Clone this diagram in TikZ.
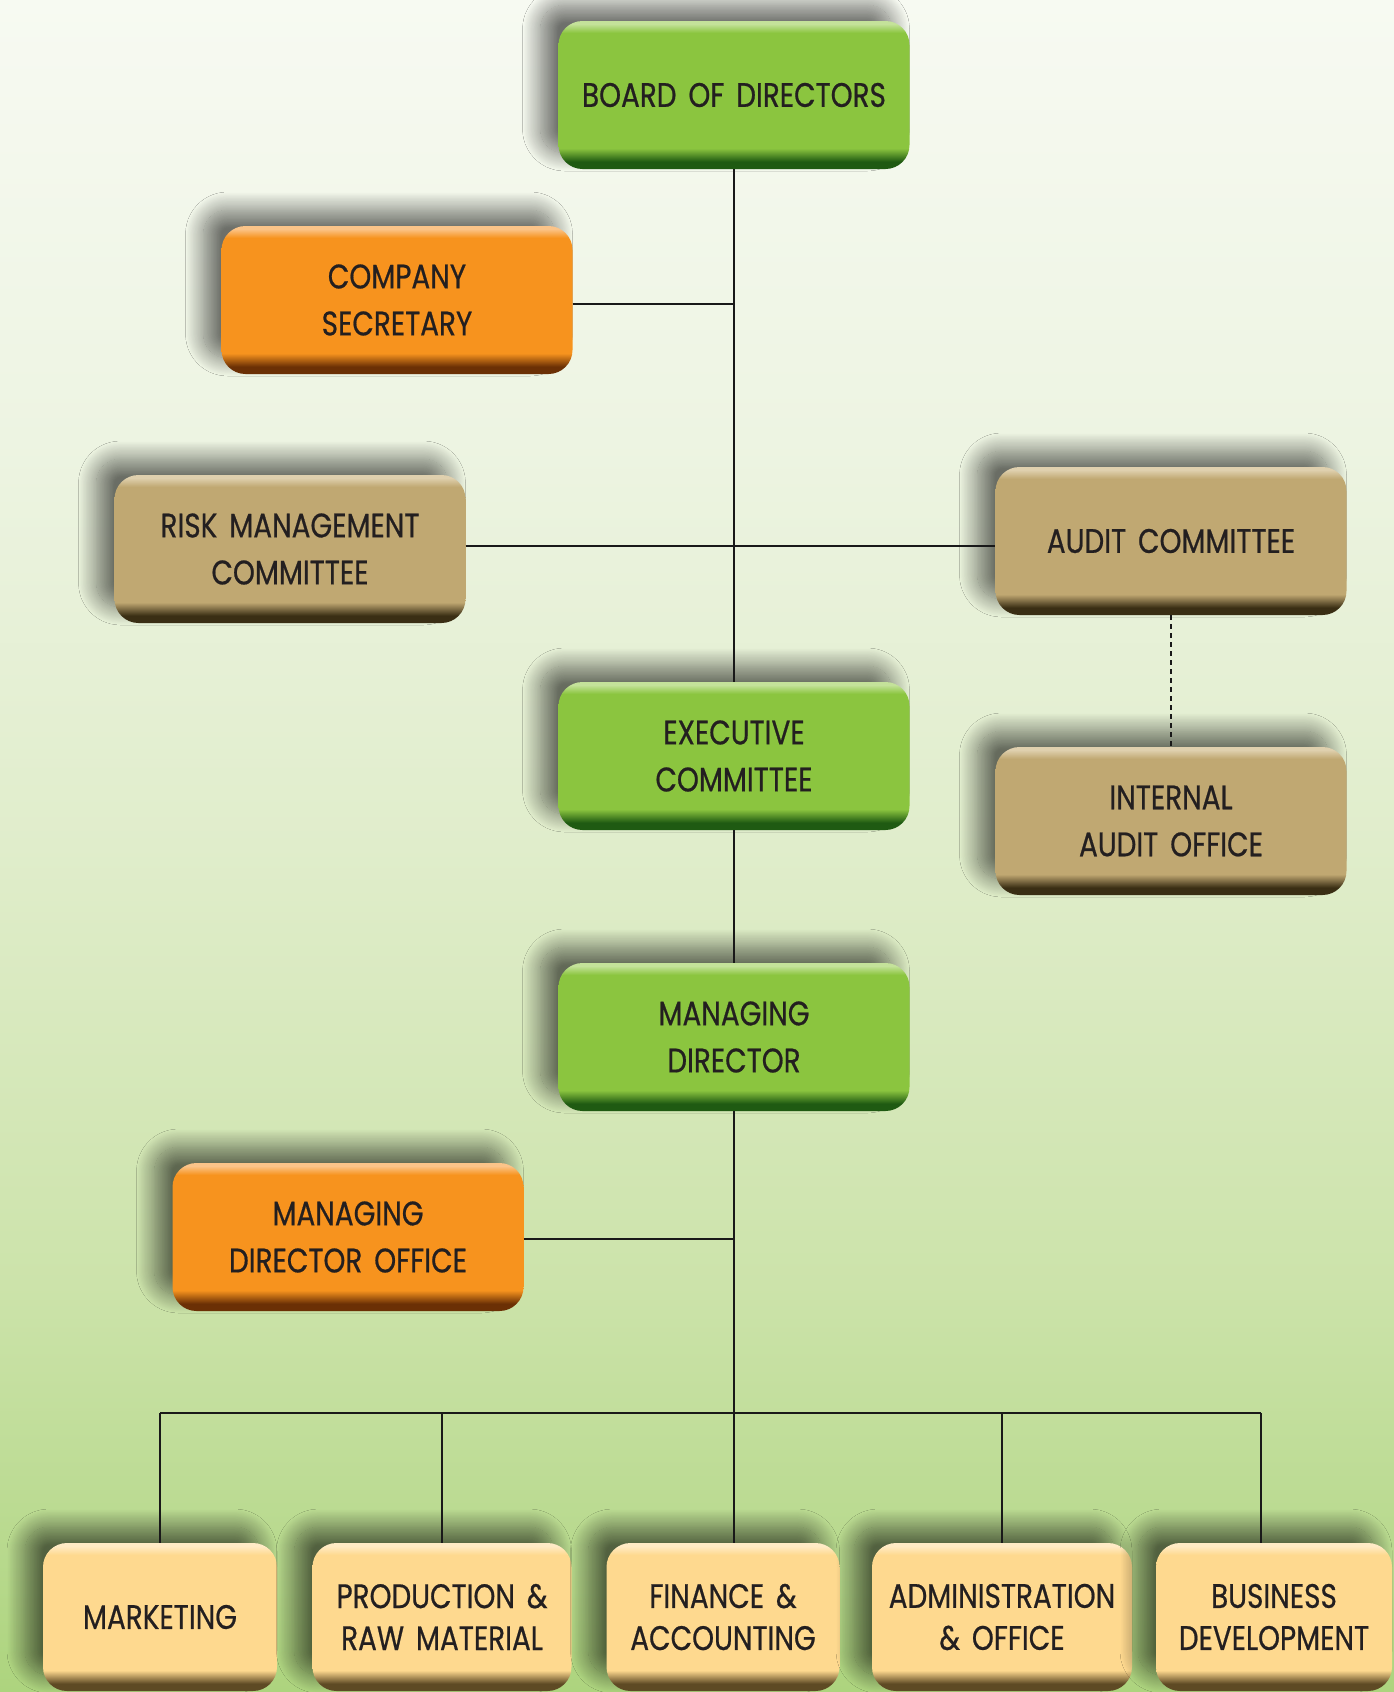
\documentclass[tikz,border=0pt]{standalone}
\usepackage{fontspec}
\setmainfont{Poppins}[FakeStretch=0.82, WordSpace=1.6, FakeBold=0.6]
\usetikzlibrary{shadows.blur}

\definecolor{bgbottom}{HTML}{ADD47E}
\definecolor{bglow}{HTML}{CCE3AA}
\definecolor{bgmid}{HTML}{E0EDCB}
\definecolor{bghigh}{HTML}{EDF4E2}
\definecolor{bgtop}{HTML}{F7FAF2}
\definecolor{grnmain}{HTML}{8BC53F}
\definecolor{grndark}{HTML}{1F5A12}
\definecolor{grnlight}{HTML}{C4E29A}
\definecolor{orgmain}{HTML}{F7931E}
\definecolor{orgdark}{HTML}{6B3005}
\definecolor{orglight}{HTML}{FBC489}
\definecolor{tanmain}{HTML}{C0A872}
\definecolor{tandark}{HTML}{3A2E14}
\definecolor{tanlight}{HTML}{DFD0AE}
\definecolor{pchmain}{HTML}{FED98F}
\definecolor{pchdark}{HTML}{5E4A24}
\definecolor{pchlight}{HTML}{FFEBC6}
\definecolor{txtdark}{HTML}{231F20}

\pgfdeclareverticalshading{bgshade}{100bp}{color(0bp)=(bgbottom); color(25bp)=(bgbottom);
  color(37bp)=(bglow); color(50bp)=(bgmid); color(62bp)=(bghigh); color(75bp)=(bgtop); color(100bp)=(bgtop)}
\pgfdeclareverticalshading{grnbevel}{100bp}{color(0bp)=(grndark); color(25bp)=(grndark); color(27.5bp)=(grndark);
  color(32bp)=(grnmain); color(71bp)=(grnmain); color(74bp)=(grnlight); color(75bp)=(grnlight); color(100bp)=(grnlight)}
\pgfdeclareverticalshading{orgbevel}{100bp}{color(0bp)=(orgdark); color(25bp)=(orgdark); color(27.5bp)=(orgdark);
  color(32bp)=(orgmain); color(71bp)=(orgmain); color(74bp)=(orglight); color(75bp)=(orglight); color(100bp)=(orglight)}
\pgfdeclareverticalshading{tanbevel}{100bp}{color(0bp)=(tandark); color(25bp)=(tandark); color(27.5bp)=(tandark);
  color(32bp)=(tanmain); color(71bp)=(tanmain); color(74bp)=(tanlight); color(75bp)=(tanlight); color(100bp)=(tanlight)}
\pgfdeclareverticalshading{pchbevel}{100bp}{color(0bp)=(pchdark); color(25bp)=(pchdark); color(27.5bp)=(pchdark);
  color(32bp)=(pchmain); color(71bp)=(pchmain); color(74bp)=(pchlight); color(75bp)=(pchlight); color(100bp)=(pchlight)}

\tikzset{
  chartbox/.style={rounded corners=24pt, minimum width=351pt, minimum height=148pt,
    align=center, text=txtdark, font=\fontsize{34}{47}\selectfont, shading angle=0,
    blur shadow={shadow xshift=-18pt, shadow yshift=16pt, shadow blur radius=18pt,
      shadow blur steps=24, shadow opacity=55}},
  greenbox/.style={chartbox, shading=grnbevel},
  orangebox/.style={chartbox, shading=orgbevel},
  tanbox/.style={chartbox, shading=tanbevel},
  deptbox/.style={chartbox, shading=pchbevel, minimum width=#1, font=\fontsize{34}{42}\selectfont},
  link/.style={line width=2.5pt, draw=black!90},
}

\begin{document}
\begin{tikzpicture}[x=1pt, y=-1pt]
  \path[use as bounding box, shading=bgshade, shading angle=0] (0,0) rectangle (1394,1692);

  % upper levels
  \node[greenbox] (board) at (734,95) {BOARD OF DIRECTORS};
  \node[orangebox] (secretary) at (397,300) {COMPANY\\SECRETARY};
  \node[tanbox] (risk) at (290,549) {RISK MANAGEMENT\\COMMITTEE};
  \node[tanbox] (audit) at (1171,541) {AUDIT COMMITTEE};
  \node[tanbox] (intaudit) at (1171,821) {INTERNAL\\AUDIT OFFICE};
  \node[greenbox] (exec) at (734,756) {EXECUTIVE\\COMMITTEE};
  \node[greenbox] (md) at (734,1037) {MANAGING\\DIRECTOR};
  \node[orangebox] (mdoffice) at (348,1237) {MANAGING\\DIRECTOR OFFICE};

  % departments
  \node[deptbox=234pt] (marketing) at (160,1617) {MARKETING};
  \node[deptbox=259pt] (production) at (442,1617) {PRODUCTION \&\\RAW MATERIAL};
  \node[deptbox=233pt] (finance) at (723,1617) {FINANCE \&\\ACCOUNTING};
  \node[deptbox=260pt] (admin) at (1002,1617) {ADMINISTRATION\\\& OFFICE};
  \node[deptbox=236pt] (business) at (1274,1617) {BUSINESS\\DEVELOPMENT};

  \coordinate (bus) at (732,1413);

  % connectors
  \draw[link] (board.south) -- (exec.north);
  \draw[link] ([yshift=-4pt]secretary.east) -- ([yshift=-4pt]secretary.east -| board.south);
  \draw[link] ([yshift=3pt]risk.east) -- ([yshift=3pt]risk.east -| audit.west);
  \draw[link, dash pattern=on 5pt off 4pt] (audit.south) -- (intaudit.north);
  \draw[link] (exec.south) -- (md.north);
  \draw[link] (md.south) -- (md.south |- finance.north);
  \draw[link] ([yshift=-2pt]mdoffice.east) -- ([yshift=-2pt]mdoffice.east -| md.south);
  \draw[link] (marketing.north |- bus) -- ([xshift=-13pt]business.north |- bus);
  \foreach \dept in {marketing,production,admin}
    \draw[link] (\dept.north |- bus) -- (\dept.north);
  \draw[link] ([xshift=-13pt]business.north |- bus) -- ([xshift=-13pt]business.north);
\end{tikzpicture}
\end{document}
